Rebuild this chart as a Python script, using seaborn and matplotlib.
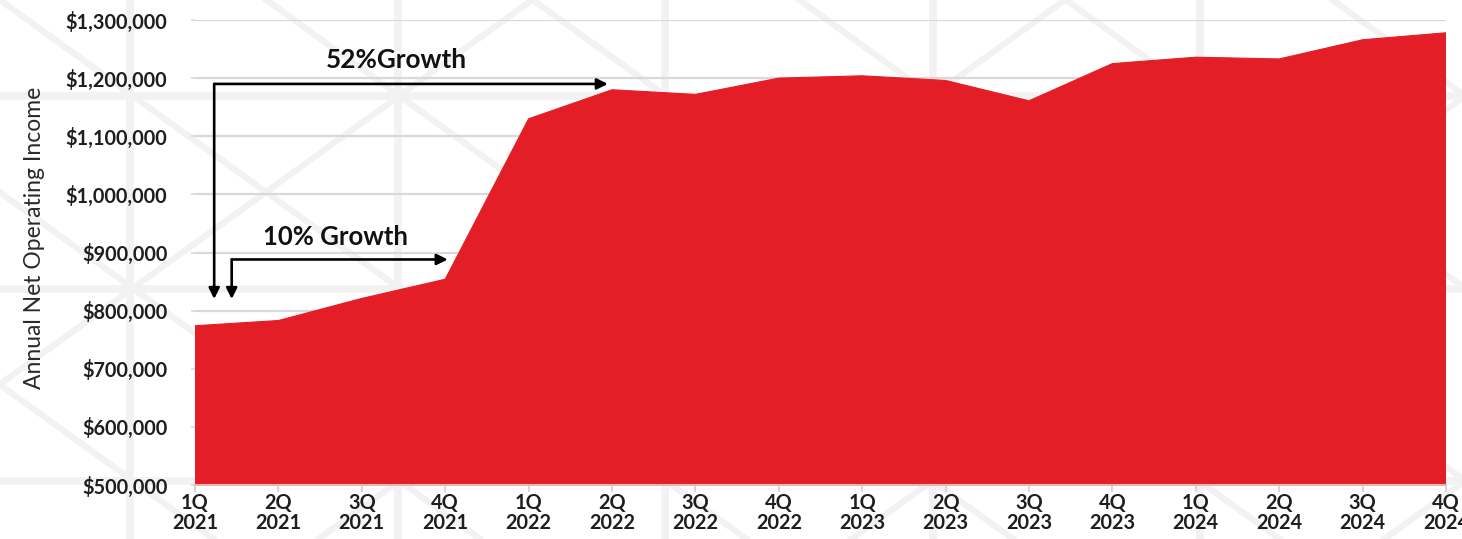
import matplotlib
matplotlib.use("Agg")
import matplotlib.pyplot as plt
import seaborn as sns
import numpy as np
import pandas as pd
from matplotlib.ticker import FuncFormatter

# ---- data ----
quarters = ["1Q\n2021", "2Q\n2021", "3Q\n2021", "4Q\n2021",
            "1Q\n2022", "2Q\n2022", "3Q\n2022", "4Q\n2022",
            "1Q\n2023", "2Q\n2023", "3Q\n2023", "4Q\n2023",
            "1Q\n2024", "2Q\n2024", "3Q\n2024", "4Q\n2024"]
noi = [774000, 783000, 821000, 854000,
       1130000, 1180000, 1172000, 1200000,
       1204000, 1196000, 1161000, 1225000,
       1236000, 1233000, 1266000, 1278000]
y_ticks = [500000, 600000, 700000, 800000, 900000,
           1000000, 1100000, 1200000, 1300000]
growth_labels = ["52%Growth", "10% Growth"]

RED = "#E31E26"

sns.set_theme(style="white")
plt.rcParams['font.family'] = ['Lato', 'DejaVu Sans']

W, H = 1462, 539
fig = plt.figure(figsize=(W / 100, H / 100), dpi=100)

# ---- decorative background pattern (pixel space) ----
bg = fig.add_axes([0, 0, 1, 1], zorder=0)
bg.set_xlim(0, W)
bg.set_ylim(H, 0)
bg.axis("off")
pat_col = "#f2f2f2"
slope = 0.722
for xv in np.arange(130, W + 10, 267.5):
    bg.plot([xv, xv], [0, H], color=pat_col, lw=5.5, solid_capstyle="butt")
for yv in [96, 289, 481]:
    bg.plot([0, W], [yv, yv], color=pat_col, lw=5.5, solid_capstyle="butt")
xs = np.array([-100, W + 100])
for d in np.arange(-1066, W + 10, 266.5):      # "\" lines
    bg.plot(xs, slope * (xs - d), color=pat_col, lw=4.5)
for c in np.arange(532, W + 1200, 533):        # "/" lines
    bg.plot(xs, slope * (c - xs), color=pat_col, lw=4.5)

# ---- main chart ----
ax = fig.add_axes([195 / W, 1 - 485 / H, (1446 - 195) / W, (485 - 20) / H], zorder=2)
ax.set_facecolor("none")

df = pd.DataFrame({"x": np.arange(len(quarters)), "noi": noi})
sns.lineplot(data=df, x="x", y="noi", ax=ax, color=RED, lw=0.8, zorder=3)
ax.fill_between(df["x"], df["noi"], 0, color=RED, lw=0, zorder=3)

ax.set_xlim(0, len(quarters) - 1)
ax.set_ylim(y_ticks[0], y_ticks[-1])
ax.set_yticks(y_ticks)
ax.yaxis.set_major_formatter(FuncFormatter(lambda v, p: f"${v:,.0f}"))
ax.set_xticks(df["x"])
ax.set_xticklabels(quarters, linespacing=1.0)

ax.grid(axis="y", color="#d9d9d9", lw=1.6, zorder=1)
ax.grid(axis="x", visible=False)
for s in ["top", "right", "left"]:
    ax.spines[s].set_visible(False)
ax.spines["bottom"].set_color("#e3b5b7")
ax.spines["bottom"].set_linewidth(1.5)
ax.spines["bottom"].set_zorder(4)

ax.tick_params(axis="x", bottom=True, length=5, width=1.2, color="#d0d0d0",
               pad=0.5, labelsize=14.3, labelcolor="#1e1e1e")
ax.tick_params(axis="y", left=True, length=3, width=1.2, color="#d9d9d9",
               pad=17, labelsize=14.3, labelcolor="#1e1e1e")
for lab in ax.get_xticklabels() + ax.get_yticklabels():
    lab.set_fontweight("bold")

ax.set_xlabel("")
ax.set_ylabel("Annual Net Operating Income", fontsize=16.5, color="#2a2a2a")
ax.yaxis.set_label_coords(-0.12, 0.532)

# ---- growth annotations ----
arrow_kw = dict(arrowstyle="-|>", color="black", lw=1.9,
                mutation_scale=16, shrinkA=0, shrinkB=0)
# 52% growth
ax.annotate("", xy=(4.95, 1190000), xytext=(0.23, 1190000),
            arrowprops=arrow_kw, zorder=5)
ax.annotate("", xy=(0.23, 820000), xytext=(0.23, 1190000),
            arrowprops=arrow_kw, zorder=5)
ax.text(2.41, 1231000, growth_labels[0], ha="center", va="center",
        fontsize=18.8, fontweight="bold", color="#111111")
# 10% growth
ax.annotate("", xy=(3.03, 888000), xytext=(0.44, 888000),
            arrowprops=arrow_kw, zorder=5)
ax.annotate("", xy=(0.44, 820000), xytext=(0.44, 888000),
            arrowprops=arrow_kw, zorder=5)
ax.text(1.68, 926500, growth_labels[1], ha="center", va="center",
        fontsize=18.5, fontweight="bold", color="#111111")

fig.savefig("out.png", dpi=100, facecolor="white")
